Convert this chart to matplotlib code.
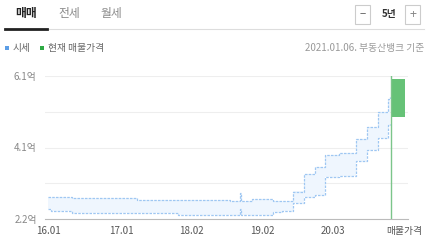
import matplotlib
matplotlib.use('Agg')
import matplotlib.pyplot as plt
from matplotlib.patches import Rectangle
from matplotlib.lines import Line2D

plt.rcParams['font.family'] = ['Noto Sans CJK KR', 'DejaVu Sans']

# change points of the price range (months since 2016.01), in 억
months = [0, 0.5, 4.2, 15.6, 22.8, 31.9, 33.6, 33.9, 35.8, 39.4, 41.0, 43.0,
          44.9, 46.8, 48.6, 51.0, 54.0, 56.0, 57.9, 59.6, 60.0]
upper = [2.81, 2.81, 2.76, 2.73, 2.73, 2.68, 2.92, 2.68, 2.75, 2.69, 2.69, 2.95,
         3.42, 3.62, 3.95, 3.99, 4.37, 4.72, 5.11, 5.47, 5.52]
lower = [2.46, 2.42, 2.36, 2.36, 2.31, 2.31, 2.47, 2.31, 2.31, 2.40, 2.42, 2.63,
         2.81, 2.85, 3.35, 3.37, 3.79, 4.08, 4.40, 4.76, 4.80]

# current listing price
listing_x = 60.2
listing_lo = 4.98
listing_hi = 6.02

xtick_pos = [0, 12.8, 25.2, 37.6, 50, 62.5]
xtick_labels = ['16.01', '17.01', '18.02', '19.02', '20.03', '매물가격']
ytick_pos = [2.2, 3.175, 4.15, 5.125, 6.1]
ytick_labels = ['2.2억', '', '4.1억', '', '6.1억']

W, H = 430, 240
fig = plt.figure(figsize=(W / 100, H / 100), dpi=100)


def fx(x):
    return x / W


def fy(y):
    return 1 - y / H


ax = fig.add_axes([fx(45), fy(219), fx(408 - 45), fy(76) - fy(219)])

blue = '#9fc7f2'
ax.fill_between(months, lower, upper, step='post', color='#eff6fe', lw=0)
ax.plot(months, upper, drawstyle='steps-post', color=blue, lw=0.9, ls=(0, (2, 1)))
ax.plot(months, lower, drawstyle='steps-post', color=blue, lw=0.9, ls=(0, (2, 1)))

ax.axvline(listing_x, color='#7cc58a', lw=1)
ax.bar(listing_x, listing_hi - listing_lo, bottom=listing_lo, width=2.4,
       align='edge', color='#66c277', lw=0)

ax.set_xlim(-0.53, 63.16)
ax.set_ylim(2.2, 6.1)
ax.set_xticks(xtick_pos)
ax.set_xticklabels(xtick_labels)
ax.set_yticks(ytick_pos)
ax.set_yticklabels(ytick_labels)
ax.tick_params(length=0, labelsize=7, colors='#555555')
ax.tick_params(axis='y', pad=6, colors='#888888')
ax.tick_params(axis='x', pad=5)
ax.grid(axis='y', color='#eeeeee', lw=0.8)
ax.set_axisbelow(True)
for s in ['top', 'right', 'left']:
    ax.spines[s].set_visible(False)
ax.spines['bottom'].set_color('#bbbbbb')

# header tabs
fig.text(fx(15), fy(14), '매매', fontsize=8.5, weight='bold', color='#222222', va='center')
fig.text(fx(58), fy(14), '전세', fontsize=8.5, color='#888888', va='center')
fig.text(fx(100), fy(14), '월세', fontsize=8.5, color='#888888', va='center')
fig.add_artist(Line2D([fx(5), fx(424)], [fy(29), fy(29)], color='#dddddd', lw=0.8))
fig.add_artist(Line2D([fx(5), fx(47)], [fy(29), fy(29)], color='#222222', lw=2))

# zoom controls
for x0 in [355, 405]:
    fig.add_artist(Rectangle((fx(x0), fy(24)), fx(15), fy(5) - fy(24),
                             transform=fig.transFigure, fill=False,
                             edgecolor='#cccccc', lw=0.8))
fig.text(fx(362.5), fy(14.5), '−', fontsize=8, color='#555555', ha='center', va='center')
fig.text(fx(412.5), fy(14.5), '+', fontsize=9, color='#888888', ha='center', va='center')
fig.text(fx(389.5), fy(14.5), '5년', fontsize=7, weight='bold', color='#333333',
         ha='center', va='center')

# legend + source
fig.add_artist(Rectangle((fx(5), fy(50)), fx(4), fy(46) - fy(50),
                         transform=fig.transFigure, color='#5c9ee6', lw=0))
fig.text(fx(13), fy(48), '시세', fontsize=7, color='#666666', va='center')
fig.add_artist(Rectangle((fx(40), fy(50)), fx(4), fy(46) - fy(50),
                         transform=fig.transFigure, color='#2eaa44', lw=0))
fig.text(fx(48), fy(48), '현재 매물가격', fontsize=7, color='#666666', va='center')
fig.text(fx(424), fy(48), '2021.01.06. 부동산뱅크 기준', fontsize=7, color='#999999',
         ha='right', va='center')

fig.savefig('out.png', dpi=100)
